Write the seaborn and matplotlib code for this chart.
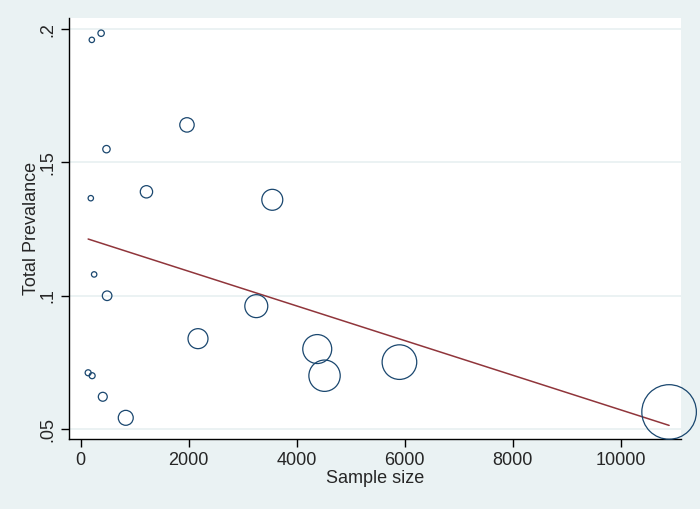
import numpy as np
import pandas as pd
import matplotlib
matplotlib.use("Agg")
import matplotlib.pyplot as plt
import seaborn as sns

# Studies: sample size, total prevalence and relative weight (bubble area)
sample_size = [209, 381, 480, 190, 1220, 1970, 3549, 252, 492, 141, 215,
               412, 837, 2174, 3253, 4381, 4516, 5902, 10893]
prevalence = [0.196, 0.1985, 0.155, 0.1366, 0.139, 0.1641, 0.136, 0.108, 0.100,
              0.0711, 0.0700, 0.0621, 0.0542, 0.0839, 0.0961, 0.080, 0.070,
              0.0751, 0.0564]
weight = [7.3, 10.2, 13.7, 7.3, 38, 52, 110, 7.3, 23, 9, 9,
          20, 56, 100, 132, 210, 246, 300, 745]

x_ticks = [0, 2000, 4000, 6000, 8000, 10000]
y_ticks = [0.05, 0.10, 0.15, 0.20]
y_tick_labels = [".05", ".1", ".15", ".2"]

df = pd.DataFrame({"n": sample_size, "prev": prevalence, "w": weight})

# linear fit (like Stata lfit)
coef = np.polyfit(df["n"], df["prev"], 1)
fit = pd.DataFrame({"n": [df["n"].min(), df["n"].max()]})
fit["prev"] = np.polyval(coef, fit["n"])

bg = "#eaf2f3"
sns.set_style("white")
plt.rcParams["font.family"] = ["Liberation Sans", "DejaVu Sans"]

fig = plt.figure(figsize=(7, 5.09), dpi=100, facecolor=bg)
ax = fig.add_axes([0.0986, 0.1375, 0.8744, 0.8271])
ax.set_facecolor("white")

for yt in y_ticks:
    ax.axhline(yt, color="#e8f0f1", lw=1.2, zorder=0)

wmax = max(weight)
sns.scatterplot(data=df, x="n", y="prev", size="w", sizes=(0, wmax * 2.07),
                size_norm=(0, wmax), facecolor="none", edgecolor="#1a476f",
                linewidth=0.9, legend=False, clip_on=False, ax=ax, zorder=3)
sns.lineplot(data=fit, x="n", y="prev", color="#90353b", lw=1.1, ax=ax, zorder=2)

ax.set_xlim(-213, 11115)
ax.set_ylim(0.04625, 0.2042)
ax.set_xticks(x_ticks)
ax.set_yticks(y_ticks)
ax.set_yticklabels(y_tick_labels, rotation=90, va="center")
ax.tick_params(axis="both", direction="out", length=6, width=1, color="black",
               labelsize=13, pad=3, left=True, bottom=True)
for s in ["top", "right"]:
    ax.spines[s].set_visible(False)
for s in ["left", "bottom"]:
    ax.spines[s].set_color("black")
    ax.spines[s].set_linewidth(1)

ax.set_xlabel("Sample size", fontsize=13, labelpad=1)
ax.set_ylabel("Total Prevalance", fontsize=13, labelpad=0)

fig.savefig("out.png", dpi=100, facecolor=bg)
